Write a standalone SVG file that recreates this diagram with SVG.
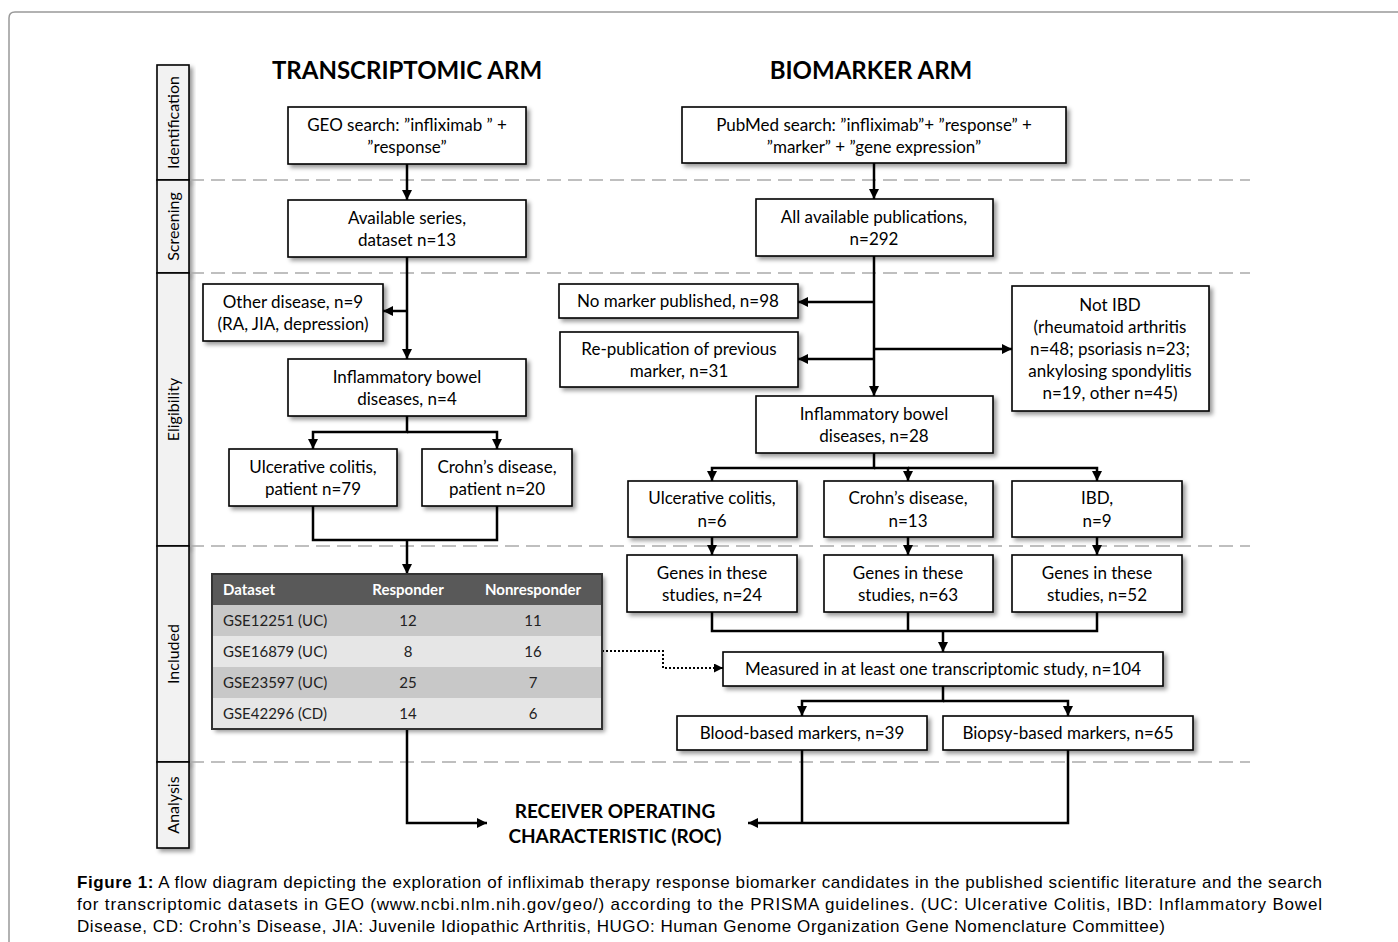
<svg xmlns="http://www.w3.org/2000/svg" width="1398" height="942" viewBox="0 0 1398 942">
<defs>
<filter id="sh" x="-10%" y="-10%" width="130%" height="140%">
<feDropShadow dx="3" dy="3" stdDeviation="2" flood-color="#000" flood-opacity="0.4"/>
</filter>
<marker id="ah" markerUnits="userSpaceOnUse" markerWidth="10" markerHeight="10" refX="10" refY="5" orient="auto">
<path d="M0,0 L10,5 L0,10 z" fill="#000"/>
</marker>
<marker id="ahs" markerUnits="userSpaceOnUse" markerWidth="9" markerHeight="9" refX="9" refY="4.5" orient="auto">
<path d="M0,0 L9,4.5 L0,9 z" fill="#000"/>
</marker>
</defs>
<style>
.box{fill:#fff;stroke:#000;stroke-width:1.6;filter:url(#sh)}
.side{fill:#f2f2f2;stroke:#000;stroke-width:1.6;filter:url(#sh)}
.t{font-family:Lato,"Open Sans",sans-serif;font-size:17px;fill:#000;text-anchor:middle}
.sl{font-family:Lato,"Open Sans",sans-serif;font-size:16px;fill:#000;text-anchor:middle}
.title{font-family:Lato,"Open Sans",sans-serif;font-size:24px;font-weight:bold;fill:#000;text-anchor:middle}
.roc{font-family:Lato,"Open Sans",sans-serif;font-size:19px;font-weight:bold;fill:#000;text-anchor:middle}
.th{font-family:Lato,"Open Sans",sans-serif;font-size:15px;font-weight:bold;fill:#fff}
.td{font-family:Lato,"Open Sans",sans-serif;font-size:15px;fill:#222}
.c{text-anchor:middle}
.dash{stroke:#aaa;stroke-width:1.5;stroke-dasharray:14 7;fill:none}
.ln{stroke:#000;stroke-width:2.5;fill:none}
.la{stroke:#000;stroke-width:2.5;fill:none;marker-end:url(#ah)}
.cap{font-family:"Liberation Sans",Arial,sans-serif;font-size:17px;fill:#000}
</style>

<!-- outer frame -->
<path d="M9,942 V18 Q9,12 15,12 H1398" fill="none" stroke="#999" stroke-width="1.5"/>

<!-- phase sidebar -->
<g id="phases">
<rect class="side" x="157" y="65" width="32" height="115"/>
<rect class="side" x="157" y="180" width="32" height="93"/>
<rect class="side" x="157" y="273" width="32" height="273"/>
<rect class="side" x="157" y="546" width="32" height="216"/>
<rect class="side" x="157" y="762" width="32" height="86"/>
<text class="sl" transform="translate(178.5,122.5) rotate(-90)">Identification</text>
<text class="sl" transform="translate(178.5,226.5) rotate(-90)">Screening</text>
<text class="sl" transform="translate(178.5,409.5) rotate(-90)">Eligibility</text>
<text class="sl" transform="translate(178.5,654) rotate(-90)">Included</text>
<text class="sl" transform="translate(178.5,805) rotate(-90)">Analysis</text>
</g>

<!-- phase separators -->
<g id="separators">
<line class="dash" x1="190" y1="180" x2="1250" y2="180"/>
<line class="dash" x1="190" y1="273" x2="1250" y2="273"/>
<line class="dash" x1="190" y1="546" x2="1250" y2="546"/>
<line class="dash" x1="190" y1="762" x2="1250" y2="762"/>
</g>

<!-- titles -->
<text class="title" x="407" y="79">TRANSCRIPTOMIC ARM</text>
<text class="title" x="871" y="79">BIOMARKER ARM</text>

<!-- connectors -->
<g id="connectors">
<path class="la" d="M407,164 V200"/>
<path class="la" d="M407,257 V359"/>
<path class="la" d="M407,311 H383"/>
<path class="la" d="M407,416 V432 H313 V449"/>
<path class="la" d="M407,432 H497 V449"/>
<path class="ln" d="M313,506 V540 H497 V506"/>
<path class="la" d="M407,540 V574"/>
<path class="la" d="M407,729 V823 H487"/>

<path class="la" d="M874,163 V199"/>
<path class="la" d="M874,256 V396"/>
<path class="la" d="M874,302 H798"/>
<path class="la" d="M874,359 H798"/>
<path class="la" d="M874,349 H1012"/>
<path class="la" d="M874,453 V468 H712 V481"/>
<path class="la" d="M874,468 H908 V481"/>
<path class="la" d="M908,468 H1097 V481"/>
<path class="la" d="M712,537 V555"/>
<path class="la" d="M908,537 V555"/>
<path class="la" d="M1097,537 V555"/>
<path class="ln" d="M712,612 V631 H1097 V612"/>
<path class="ln" d="M908,612 V631"/>
<path class="la" d="M943,631 V652"/>
<path d="M602,651 H663 V668 H723" fill="none" stroke="#000" stroke-width="2" stroke-dasharray="2 2" marker-end="url(#ahs)"/>
<path class="la" d="M943,686 V701 H802 V716"/>
<path class="la" d="M943,701 H1068 V716"/>
<path class="ln" d="M802,750 V823"/>
<path class="la" d="M1068,750 V823 H748"/>
</g>

<!-- transcriptomic arm -->
<g id="geo-search">
<rect class="box" x="288" y="107" width="238" height="57"/>
<text class="t" x="407" y="131">GEO search: ”infliximab ” +</text>
<text class="t" x="407" y="153">”response”</text>
</g>
<g id="available-series">
<rect class="box" x="288" y="200" width="238" height="57"/>
<text class="t" x="407" y="224">Available series,</text>
<text class="t" x="407" y="246">dataset n=13</text>
</g>
<g id="other-disease">
<rect class="box" x="203" y="284" width="180" height="57"/>
<text class="t" x="293" y="308">Other disease, n=9</text>
<text class="t" x="293" y="330">(RA, JIA, depression)</text>
</g>
<g id="ibd-t">
<rect class="box" x="288" y="359" width="238" height="57"/>
<text class="t" x="407" y="383">Inflammatory bowel</text>
<text class="t" x="407" y="405">diseases, n=4</text>
</g>
<g id="uc-t">
<rect class="box" x="229" y="449" width="168" height="57"/>
<text class="t" x="313" y="473">Ulcerative colitis,</text>
<text class="t" x="313" y="495">patient n=79</text>
</g>
<g id="cd-t">
<rect class="box" x="422" y="449" width="150" height="57"/>
<text class="t" x="497" y="473">Crohn’s disease,</text>
<text class="t" x="497" y="495">patient n=20</text>
</g>
<g id="dataset-table">
<rect x="212" y="574" width="390" height="155" fill="#fff" filter="url(#sh)"/>
<rect x="212" y="574" width="390" height="31" fill="#595959"/>
<rect x="212" y="605" width="390" height="31" fill="#c8c8c8"/>
<rect x="212" y="636" width="390" height="31" fill="#e6e6e6"/>
<rect x="212" y="667" width="390" height="31" fill="#c8c8c8"/>
<rect x="212" y="698" width="390" height="31" fill="#e6e6e6"/>
<rect x="212" y="574" width="390" height="155" fill="none" stroke="#333" stroke-width="2"/>
<text class="th" x="223" y="595">Dataset</text>
<text class="th c" x="408" y="595">Responder</text>
<text class="th c" x="533" y="595">Nonresponder</text>
<text class="td" x="223" y="626">GSE12251 (UC)</text>
<text class="td c" x="408" y="626">12</text>
<text class="td c" x="533" y="626">11</text>
<text class="td" x="223" y="657">GSE16879 (UC)</text>
<text class="td c" x="408" y="657">8</text>
<text class="td c" x="533" y="657">16</text>
<text class="td" x="223" y="688">GSE23597 (UC)</text>
<text class="td c" x="408" y="688">25</text>
<text class="td c" x="533" y="688">7</text>
<text class="td" x="223" y="719">GSE42296 (CD)</text>
<text class="td c" x="408" y="719">14</text>
<text class="td c" x="533" y="719">6</text>
</g>

<!-- biomarker arm -->
<g id="pubmed-search">
<rect class="box" x="682" y="107" width="384" height="56"/>
<text class="t" x="874" y="131">PubMed search: ”infliximab”+ ”response” +</text>
<text class="t" x="874" y="153">”marker” + ”gene expression”</text>
</g>
<g id="all-publications">
<rect class="box" x="756" y="199" width="237" height="57"/>
<text class="t" x="874" y="223">All available publications,</text>
<text class="t" x="874" y="245">n=292</text>
</g>
<g id="no-marker">
<rect class="box" x="559" y="284" width="239" height="34"/>
<text class="t" x="678" y="307">No marker published, n=98</text>
</g>
<g id="republication">
<rect class="box" x="560" y="332" width="238" height="55"/>
<text class="t" x="679" y="355">Re-publication of previous</text>
<text class="t" x="679" y="377">marker, n=31</text>
</g>
<g id="not-ibd">
<rect class="box" x="1012" y="286" width="197" height="125"/>
<text class="t" x="1110" y="311">Not IBD</text>
<text class="t" x="1110" y="333">(rheumatoid arthritis</text>
<text class="t" x="1110" y="355">n=48; psoriasis n=23;</text>
<text class="t" x="1110" y="377">ankylosing spondylitis</text>
<text class="t" x="1110" y="399">n=19, other n=45)</text>
</g>
<g id="ibd-b">
<rect class="box" x="756" y="396" width="237" height="57"/>
<text class="t" x="874" y="420">Inflammatory bowel</text>
<text class="t" x="874" y="442">diseases, n=28</text>
</g>
<g id="uc-b">
<rect class="box" x="628" y="481" width="169" height="56"/>
<text class="t" x="712" y="504">Ulcerative colitis,</text>
<text class="t" x="712" y="527">n=6</text>
</g>
<g id="cd-b">
<rect class="box" x="824" y="481" width="169" height="56"/>
<text class="t" x="908" y="504">Crohn’s disease,</text>
<text class="t" x="908" y="527">n=13</text>
</g>
<g id="ibd-only">
<rect class="box" x="1012" y="481" width="170" height="56"/>
<text class="t" x="1097" y="504">IBD,</text>
<text class="t" x="1097" y="527">n=9</text>
</g>
<g id="genes-uc">
<rect class="box" x="627" y="555" width="170" height="57"/>
<text class="t" x="712" y="579">Genes in these</text>
<text class="t" x="712" y="601">studies, n=24</text>
</g>
<g id="genes-cd">
<rect class="box" x="824" y="555" width="169" height="57"/>
<text class="t" x="908" y="579">Genes in these</text>
<text class="t" x="908" y="601">studies, n=63</text>
</g>
<g id="genes-ibd">
<rect class="box" x="1012" y="555" width="170" height="57"/>
<text class="t" x="1097" y="579">Genes in these</text>
<text class="t" x="1097" y="601">studies, n=52</text>
</g>
<g id="measured">
<rect class="box" x="723" y="652" width="440" height="34"/>
<text class="t" x="943" y="675">Measured in at least one transcriptomic study, n=104</text>
</g>
<g id="blood">
<rect class="box" x="677" y="716" width="250" height="34"/>
<text class="t" x="802" y="739">Blood-based markers, n=39</text>
</g>
<g id="biopsy">
<rect class="box" x="943" y="716" width="250" height="34"/>
<text class="t" x="1068" y="739">Biopsy-based markers, n=65</text>
</g>
<g id="roc">
<text class="roc" x="615" y="818">RECEIVER OPERATING</text>
<text class="roc" x="615" y="843">CHARACTERISTIC (ROC)</text>
</g>

<!-- caption -->
<text class="cap" x="77" y="888" textLength="1245" lengthAdjust="spacing"><tspan font-weight="bold">Figure 1:</tspan> A flow diagram depicting the exploration of infliximab therapy response biomarker candidates in the published scientific literature and the search</text>
<text class="cap" x="77" y="910" textLength="1245" lengthAdjust="spacing">for transcriptomic datasets in GEO (www.ncbi.nlm.nih.gov/geo/) according to the PRISMA guidelines. (UC: Ulcerative Colitis, IBD: Inflammatory Bowel</text>
<text class="cap" x="77" y="932" textLength="1088" lengthAdjust="spacing">Disease, CD: Crohn’s Disease, JIA: Juvenile Idiopathic Arthritis, HUGO: Human Genome Organization Gene Nomenclature Committee)</text>
</svg>
